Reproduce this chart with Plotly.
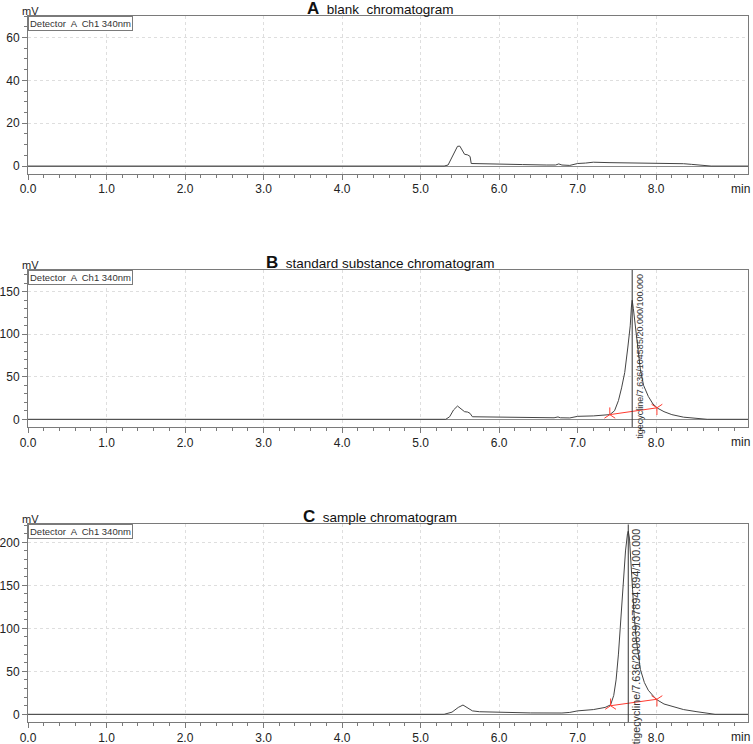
import plotly.graph_objects as go

# ---------------- data (time in min, signal in mV) ----------------
t_blank = [0.0, 5.30, 5.35, 5.40, 5.44, 5.47, 5.50, 5.53, 5.56, 5.60, 5.63, 5.645, 5.8, 6.0, 6.3, 6.6,
           6.72, 6.76, 6.80, 6.9, 6.95, 7.0, 7.1, 7.2, 7.4, 7.7, 8.0, 8.35, 8.45, 8.6, 8.7, 9.17]
mv_blank = [0, 0, 0.5, 4, 7.5, 9.2, 9.3, 7.5, 5.5, 5.2, 4.5, 1.2, 1.0, 0.9, 0.7, 0.5,
            0.5, 1.0, 0.5, 0.3, 0.8, 1.2, 1.4, 1.8, 1.6, 1.5, 1.3, 1.1, 0.8, 0.2, 0, 0]

t_std = [0.0, 5.32, 5.37, 5.42, 5.47, 5.52, 5.56, 5.60, 5.63, 5.66, 5.8, 6.0, 6.4, 6.7, 6.75, 6.78,
         6.9, 6.97, 7.0, 7.2, 7.3, 7.41, 7.47, 7.52, 7.56, 7.60, 7.64, 7.67, 7.685, 7.695, 7.71,
         7.74, 7.77, 7.80, 7.84, 7.90, 7.96, 8.02, 8.1, 8.2, 8.35, 8.5, 8.65, 9.17]
mv_std = [0, 0, 3, 11, 15.6, 12, 9, 8.5, 7, 3, 2.8, 2.5, 2.0, 1.8, 2.8, 1.8,
          1.6, 3, 3.5, 4.0, 4.5, 5.5, 10, 22, 37, 55, 85, 110, 132, 140, 130,
          105, 80, 58, 40, 27, 18, 13, 9, 5.5, 2.5, 1, 0, 0]

t_smp = [0.0, 5.30, 5.40, 5.48, 5.54, 5.60, 5.66, 5.75, 6.0, 6.4, 6.8, 6.9, 7.0, 7.2, 7.35, 7.42,
         7.46, 7.49, 7.52, 7.55, 7.58, 7.61, 7.635, 7.645, 7.66, 7.68, 7.70, 7.72, 7.75, 7.80,
         7.85, 7.90, 8.0, 8.1, 8.22, 8.35, 8.52, 8.65, 8.75, 9.17]
mv_smp = [0, 0, 2.5, 8, 10.8, 7, 4, 3, 2.4, 1.6, 1.5, 2.2, 4, 5.5, 8, 11,
          22, 40, 70, 110, 152, 190, 210, 213, 205, 180, 145, 115, 85, 52,
          37, 28, 17.5, 12, 8.8, 5.5, 3, 1, 0, 0]

# integration baselines (start, end)
std_base_t = [7.41, 8.01]
std_base_mv = [5.5, 13.5]
smp_base_t = [7.42, 8.01]
smp_base_mv = [10.0, 17.5]

# peak marker positions
std_peak_t = 7.695
smp_peak_t = 7.645

x_ticks = [0, 1, 2, 3, 4, 5, 6, 7, 8]
x_ticktext = ["0.0", "1.0", "2.0", "3.0", "4.0", "5.0", "6.0", "7.0", "8.0"]

panel_titles = ["<b style='font-size:17px'>A</b>  blank  chromatogram",
                "<b style='font-size:17px'>B</b>  standard substance chromatogram",
                "<b style='font-size:17px'>C</b>  sample chromatogram"]
y_ranges = [[-3.7, 70], [-9.4, 175.6], [-9.3, 221]]
y_dticks = [20, 50, 50]
y_minor = [5, 10, 10]
std_label = "tigecycline/7.636/104585/20.000/100.000"
smp_label = "tigecycline/7.636/200839/37894.894/100.000"

# ---------------- layout geometry ----------------
W, H = 753, 744


def px(p):
    return p / W


def py(p):
    return 1 - p / H


x_dom = [px(28), px(748)]
y_doms = [[py(174), py(16)], [py(427.3), py(270)], [py(722.3), py(524.3)]]

FONT = "Liberation Sans, Arial, Helvetica, sans-serif"
LINE = "#444444"
AX = "#7a7a7a"
GRID = "#dedede"

fig = go.Figure()

series = [(t_blank, mv_blank), (t_std, mv_std), (t_smp, mv_smp)]
for i, (tx, my) in enumerate(series):
    xa = "x" if i == 0 else f"x{i+1}"
    ya = "y" if i == 0 else f"y{i+1}"
    fig.add_trace(go.Scatter(x=tx, y=my, mode="lines", xaxis=xa, yaxis=ya,
                             line=dict(color=LINE, width=1), showlegend=False, hoverinfo="skip"))

# baselines with red markers
for (bt, bm, xa, ya) in [(std_base_t, std_base_mv, "x2", "y2"), (smp_base_t, smp_base_mv, "x3", "y3")]:
    fig.add_trace(go.Scatter(x=bt, y=bm, mode="lines+markers", xaxis=xa, yaxis=ya,
                             line=dict(color="#ff3b30", width=1),
                             marker=dict(symbol=["y-up-open", "y-down-open"], size=9,
                                         line=dict(color="#ff3b30", width=1), color="#ff3b30"),
                             showlegend=False, hoverinfo="skip"))

# vertical peak lines
for (pt, xa, ya, yr) in [(std_peak_t, "x2", "y2", y_ranges[1]), (smp_peak_t, "x3", "y3", y_ranges[2])]:
    fig.add_trace(go.Scatter(x=[pt, pt], y=yr, mode="lines", xaxis=xa, yaxis=ya,
                             line=dict(color="#333333", width=1), showlegend=False, hoverinfo="skip"))

layout = dict(width=W, height=H, margin=dict(l=0, r=0, t=0, b=0, pad=0, autoexpand=False),
              paper_bgcolor="white", plot_bgcolor="white",
              font=dict(family=FONT, size=12, color="#222222"))

annotations = []
for i in range(3):
    xk = "xaxis" if i == 0 else f"xaxis{i+1}"
    yk = "yaxis" if i == 0 else f"yaxis{i+1}"
    ya = "y" if i == 0 else f"y{i+1}"
    xa = "x" if i == 0 else f"x{i+1}"
    layout[xk] = dict(domain=x_dom, anchor=ya, range=[0, 9.17], tickvals=x_ticks, ticktext=x_ticktext,
                      ticks="outside", ticklen=5, tickcolor=AX, showline=True, linecolor=AX, linewidth=1,
                      mirror=True, showgrid=True, gridcolor=GRID, griddash="dot", gridwidth=1,
                      zeroline=False, tickfont=dict(size=12, color="#222"), automargin=False,
                      ticklabelstandoff=-1,
                      minor=dict(dtick=0.2, ticks="outside", ticklen=3, tickcolor=AX, showgrid=False))
    layout[yk] = dict(domain=y_doms[i], anchor=xa, range=y_ranges[i], dtick=y_dticks[i], tick0=0,
                      ticks="outside", ticklen=5, tickcolor=AX, showline=True, linecolor=AX, linewidth=1,
                      mirror=True, showgrid=True, gridcolor=GRID, griddash="dot", gridwidth=1,
                      zeroline=True, zerolinecolor="#8a8a8a", zerolinewidth=1, automargin=False,
                      tickfont=dict(size=12, color="#222"),
                      minor=dict(dtick=y_minor[i], ticks="outside", ticklen=3, tickcolor=AX, showgrid=False))
    top = y_doms[i][1]
    bot = y_doms[i][0]
    # panel title
    annotations.append(dict(text=panel_titles[i], xref="paper", yref="paper", x=px(380), y=top,
                            xanchor="center", yanchor="bottom", yshift=-4, showarrow=False,
                            font=dict(size=13.5, color="#111")))
    # mV label
    annotations.append(dict(text="mV", xref="paper", yref="paper", x=px(30), y=top,
                            xanchor="center", yanchor="bottom", yshift=-3, showarrow=False,
                            font=dict(size=11, color="#222")))
    # detector box
    annotations.append(dict(text="Detector  A  Ch1 340nm", xref="paper", yref="paper", x=x_dom[0], y=top,
                            xanchor="left", yanchor="top", showarrow=False, bordercolor=AX, borderwidth=1,
                            borderpad=1, bgcolor="white", font=dict(size=9.5, color="#333")))
    # min label
    annotations.append(dict(text="min", xref=xa, yref="paper", x=9.08, y=bot, xanchor="center",
                            yanchor="top", yshift=-6, showarrow=False, font=dict(size=12, color="#222")))

annotations.append(dict(text=std_label, xref="x2", yref="paper", x=std_peak_t, y=py(272),
                        xanchor="left", yanchor="top", xshift=0, textangle=-90, showarrow=False,
                        font=dict(size=9, color="#333")))
annotations.append(dict(text=smp_label, xref="x3", yref="paper", x=smp_peak_t, y=py(526),
                        xanchor="left", yanchor="top", xshift=0, textangle=-90, showarrow=False,
                        font=dict(size=10.8, color="#333")))

layout["annotations"] = annotations
fig.update_layout(**layout)
# remove the default 8px page margin so the figure fills the window exactly
fig.write_html("out.html", config={"displayModeBar": False},
               post_script="document.body.style.margin='0px';")
